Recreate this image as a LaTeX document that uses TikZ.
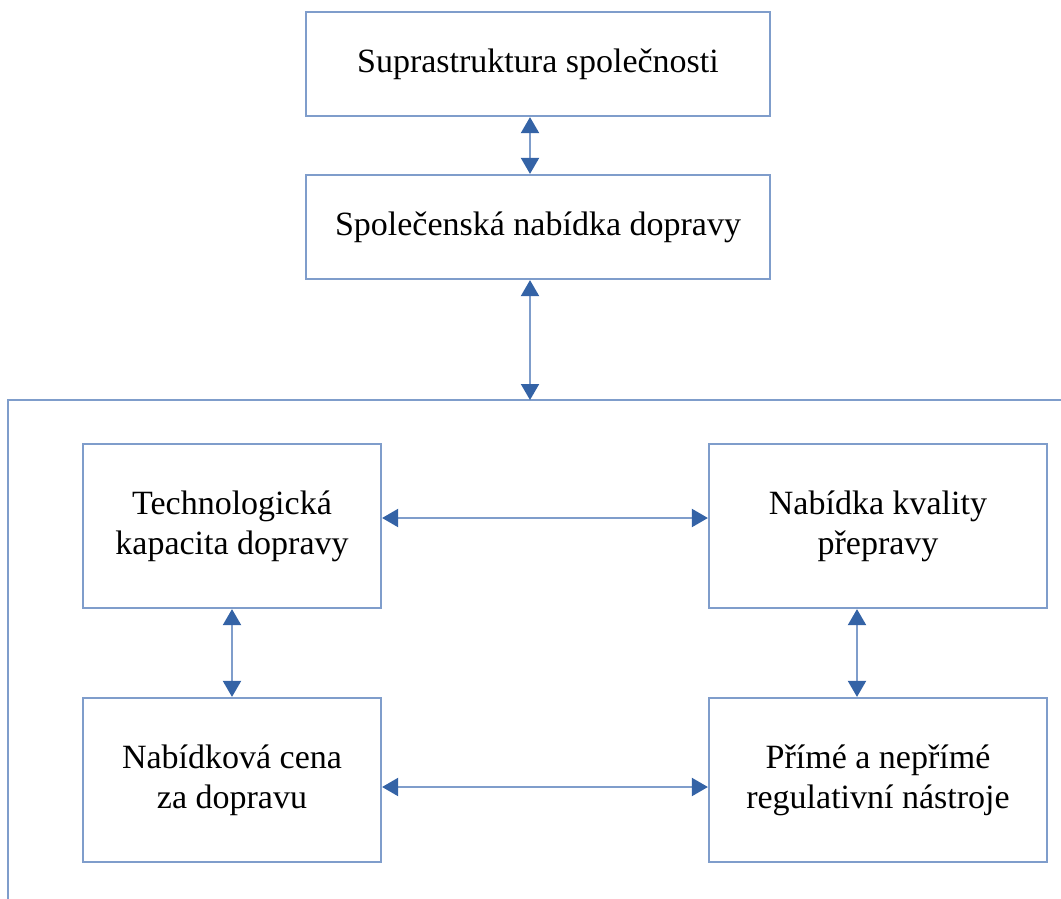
\documentclass[tikz,border=0pt]{standalone}
\usepackage{fontspec}
\setmainfont{Liberation Serif}
\usetikzlibrary{arrows.meta}
\definecolor{boxline}{HTML}{7F9DCB}
\definecolor{tipblue}{HTML}{3463A6}
\tikzset{
  stepbox/.style={draw=boxline, line width=2.2pt, fill=white, align=center,
    inner sep=0pt, font=\fontsize{34}{40}\selectfont},
  link/.style={draw=boxline, line width=2pt,
    {Triangle[length=16pt,width=18pt,color=tipblue]}-{Triangle[length=16pt,width=18pt,color=tipblue]}},
  frame/.style={draw=boxline, line width=2.2pt}
}
\begin{document}
\begin{tikzpicture}[x=1pt,y=-1pt]
  \useasboundingbox (0,0) rectangle (1061,899);
  % outer frame of the transport supply system
  \coordinate (corner) at (8,400);
  \coordinate (frameR) at (1061,400);
  \coordinate (frameB) at (8,899);
  \coordinate (frameIn) at (530,400);
  \draw[frame] (frameR) -- (corner) -- (frameB);

  \node[stepbox, minimum width=464pt, minimum height=104pt] (supra) at (538,64) {Suprastruktura společnosti};
  \node[stepbox, minimum width=464pt, minimum height=104pt] (nabidka) at (538,227) {Společenská nabídka dopravy};

  \node[stepbox, minimum width=298pt, minimum height=164pt] (tech) at (232,526) {Technologická\\kapacita dopravy};
  \node[stepbox, minimum width=338pt, minimum height=164pt] (kval) at (878,526) {Nabídka kvality\\přepravy};
  \node[stepbox, minimum width=298pt, minimum height=164pt] (cena) at (232,780) {Nabídková cena\\za dopravu};
  \node[stepbox, minimum width=338pt, minimum height=164pt] (regul) at (878,780) {Přímé a nepřímé\\regulativní nástroje};

  \draw[link] ([xshift=-8pt]supra.south) -- ([xshift=-8pt]nabidka.north);
  \draw[link] ([xshift=-8pt]nabidka.south) -- (frameIn);
  \draw[link] ([yshift=8pt]tech.east) -- ([yshift=8pt]kval.west);
  \draw[link] ([yshift=-7pt]cena.east) -- ([yshift=-7pt]regul.west);
  \draw[link] (tech.south) -- (cena.north);
  \draw[link] ([xshift=-21pt]kval.south) -- ([xshift=-21pt]regul.north);
\end{tikzpicture}
\end{document}
